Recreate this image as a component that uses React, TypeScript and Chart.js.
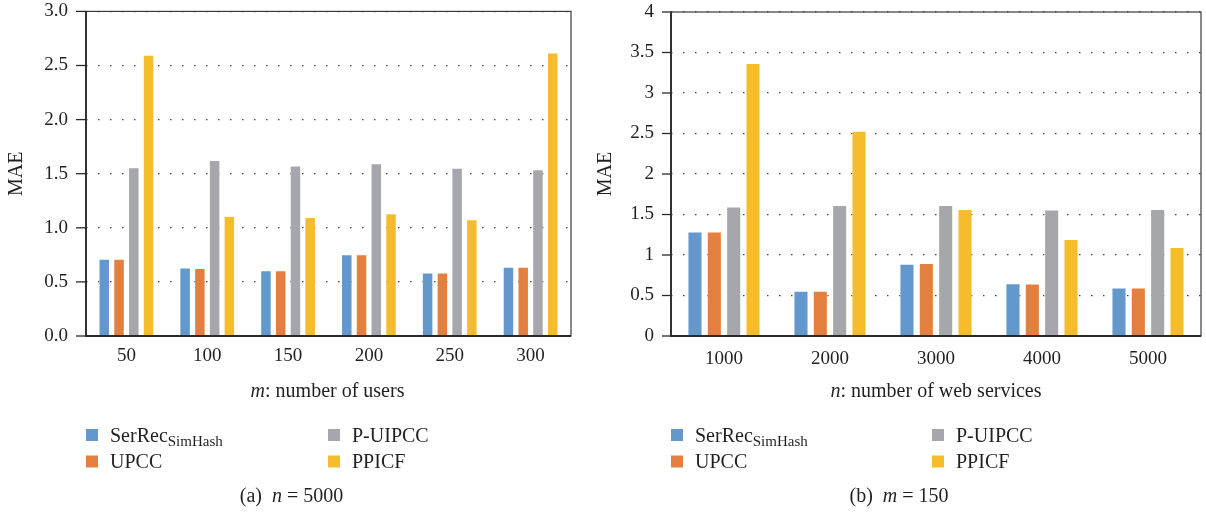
import { useEffect, useRef } from 'react';
import { Chart, registerables } from 'chart.js';

Chart.register(...registerables);

// ---------- data ----------
const seriesNames = ['SerRec_SimHash', 'UPCC', 'P-UIPCC', 'PPICF'];
const seriesColors = ['#6298CB', '#E4803F', '#A6A7AA', '#F5BC2C'];

const usersCategories = ['50', '100', '150', '200', '250', '300'];
const usersSerRec = [0.715, 0.632, 0.607, 0.755, 0.586, 0.641];
const usersUPCC = [0.715, 0.628, 0.607, 0.755, 0.586, 0.641];
const usersPUIPCC = [1.56, 1.627, 1.575, 1.596, 1.556, 1.54];
const usersPPICF = [2.6, 1.11, 1.1, 1.134, 1.078, 2.62];

const servicesCategories = ['1000', '2000', '3000', '4000', '5000'];
const servicesSerRec = [1.29, 0.56, 0.893, 0.65, 0.6];
const servicesUPCC = [1.29, 0.56, 0.9, 0.648, 0.6];
const servicesPUIPCC = [1.6, 1.617, 1.617, 1.563, 1.568];
const servicesPPICF = [3.37, 2.535, 1.568, 1.197, 1.099];

const yTitle = 'MAE';

// ---------- styling helpers ----------
const FONT = "'Liberation Serif', 'Times New Roman', serif";
const TEXT = '#231f20';

type Run = { text: string; italic?: boolean; size: number; dy?: number };

function fontOf(r: Run) {
  return `${r.italic ? 'italic ' : ''}${r.size}px ${FONT}`;
}

function drawRuns(ctx: CanvasRenderingContext2D, runs: Run[], x: number, y: number, align: 'left' | 'center') {
  ctx.save();
  ctx.textBaseline = 'alphabetic';
  ctx.textAlign = 'left';
  ctx.fillStyle = TEXT;
  let total = 0;
  const widths = runs.map((r) => {
    ctx.font = fontOf(r);
    const w = ctx.measureText(r.text).width;
    total += w;
    return w;
  });
  let cx = align === 'center' ? x - total / 2 : x;
  runs.forEach((r, i) => {
    ctx.font = fontOf(r);
    ctx.fillText(r.text, cx, y + (r.dy || 0));
    cx += widths[i];
  });
  ctx.restore();
}

type PanelCfg = {
  left: number;
  width: number;
  height: number;
  yAxisWidth: number;
  padRight: number;
  padTop: number;
  plotBottom: number;
  yMax: number;
  yFixed: boolean;
  tickLen: number;
  yLabelPad: number;
  xLabelPad: number;
  yTitlePad: number;
  categories: string[];
  values: number[][];
  xTitle: Run[];
  xTitleX: number;
  legendX: number[];
  legendTextX: number[];
  caption: Run[];
  captionX: number;
};

const legendRuns: Run[][] = [
  [
    { text: 'SerRec', size: 20 },
    { text: 'SimHash', size: 15, dy: 4 },
  ],
  [{ text: 'UPCC', size: 20 }],
  [{ text: 'P-UIPCC', size: 20 }],
  [{ text: 'PPICF', size: 20 }],
];

const panelA: PanelCfg = {
  left: 0,
  width: 590,
  height: 513,
  yAxisWidth: 86,
  padRight: 19,
  padTop: 11,
  plotBottom: 336,
  yMax: 3,
  yFixed: true,
  tickLen: 10,
  yLabelPad: 18,
  xLabelPad: 9,
  yTitlePad: 5,
  categories: usersCategories,
  values: [usersSerRec, usersUPCC, usersPUIPCC, usersPPICF],
  xTitle: [
    { text: 'm', italic: true, size: 20 },
    { text: ': number of users', size: 20 },
  ],
  xTitleX: 327.5,
  legendX: [86, 328],
  legendTextX: [110, 352],
  caption: [
    { text: '(a)  ', size: 20 },
    { text: 'n', italic: true, size: 20 },
    { text: ' = 5000', size: 20 },
  ],
  captionX: 291.5,
};

const panelB: PanelCfg = {
  left: 590,
  width: 616,
  height: 513,
  yAxisWidth: 81,
  padRight: 5,
  padTop: 12,
  plotBottom: 336,
  yMax: 4,
  yFixed: false,
  tickLen: 9,
  yLabelPad: 17,
  xLabelPad: 12,
  yTitlePad: 4,
  categories: servicesCategories,
  values: [servicesSerRec, servicesUPCC, servicesPUIPCC, servicesPPICF],
  xTitle: [
    { text: 'n', italic: true, size: 20 },
    { text: ': number of web services', size: 20 },
  ],
  xTitleX: 346,
  legendX: [81, 342],
  legendTextX: [105, 366],
  caption: [
    { text: '(b)  ', size: 20 },
    { text: 'm', italic: true, size: 20 },
    { text: ' = 150', size: 20 },
  ],
  captionX: 309,
};

function Panel({ cfg }: { cfg: PanelCfg }) {
  const ref = useRef<HTMLCanvasElement | null>(null);

  useEffect(() => {
    if (!ref.current) return;

    const framePlugin = {
      id: 'frameAndText',
      afterDraw(chart: any) {
        const ctx: CanvasRenderingContext2D = chart.ctx;
        const ca = chart.chartArea;
        const yScale = chart.scales.y;
        ctx.save();
        // frame
        ctx.strokeStyle = '#3a3a3a';
        ctx.lineWidth = 1.2;
        ctx.strokeRect(ca.left, ca.top, ca.right - ca.left, ca.bottom - ca.top);
        ctx.strokeStyle = '#2a2a2a';
        ctx.lineWidth = 1.8;
        ctx.beginPath();
        ctx.moveTo(ca.left, ca.top);
        ctx.lineTo(ca.left, ca.bottom);
        ctx.lineTo(ca.right, ca.bottom);
        ctx.stroke();
        // y tick marks
        ctx.lineWidth = 1.3;
        ctx.strokeStyle = '#2a2a2a';
        yScale.ticks.forEach((t: any) => {
          const y = yScale.getPixelForValue(t.value);
          ctx.beginPath();
          ctx.moveTo(ca.left - cfg.tickLen, y);
          ctx.lineTo(ca.left, y);
          ctx.stroke();
        });
        ctx.restore();

        // x-axis title
        drawRuns(ctx, cfg.xTitle, cfg.xTitleX, 397, 'center');

        // legend
        const rows = [441.5, 468];
        for (let i = 0; i < 4; i++) {
          const col = i < 2 ? 0 : 1;
          const row = i % 2;
          ctx.save();
          ctx.fillStyle = seriesColors[i];
          ctx.fillRect(cfg.legendX[col], rows[row] - 12.5, 12, 12);
          ctx.restore();
          drawRuns(ctx, legendRuns[i], cfg.legendTextX[col], rows[row], 'left');
        }

        // caption
        drawRuns(ctx, cfg.caption, cfg.captionX, 502, 'center');
      },
    };

    const chart = new Chart(ref.current, {
      type: 'bar',
      data: {
        labels: cfg.categories,
        datasets: cfg.values.map((vals, i) => ({
          label: seriesNames[i],
          data: vals,
          backgroundColor: seriesColors[i],
          borderColor: 'rgba(255,255,255,0.55)',
          borderWidth: 1,
          categoryPercentage: 0.73,
          barPercentage: 0.78,
        })),
      },
      options: {
        responsive: false,
        animation: false,
        devicePixelRatio: 1,
        layout: {
          padding: { left: 0, right: cfg.padRight, top: cfg.padTop, bottom: 0 },
        },
        plugins: {
          legend: { display: false },
          tooltip: { enabled: false },
          title: { display: false },
        },
        scales: {
          x: {
            grid: { display: false, drawTicks: false },
            border: { display: false },
            ticks: {
              color: TEXT,
              font: { family: FONT, size: 19 },
              padding: cfg.xLabelPad,
              maxRotation: 0,
            },
            afterFit: (scale: any) => {
              scale.height = cfg.height - cfg.plotBottom;
            },
          },
          y: {
            min: 0,
            max: cfg.yMax,
            grid: {
              color: '#444444',
              lineWidth: 1.3,
              drawTicks: true,
              tickLength: cfg.yLabelPad,
              tickColor: 'rgba(0,0,0,0)',
            },
            border: { display: false, dash: [1.5, 10.5] },
            ticks: {
              stepSize: 0.5,
              color: TEXT,
              font: { family: FONT, size: 19 },
              padding: 0,
              callback: (v: any) => (cfg.yFixed ? Number(v).toFixed(1) : String(Number(v))),
            },
            title: {
              display: true,
              text: yTitle,
              color: TEXT,
              font: { family: FONT, size: 20 },
              padding: { top: cfg.yTitlePad, bottom: 0 },
            },
            afterFit: (scale: any) => {
              scale.width = cfg.yAxisWidth;
            },
          },
        },
      },
      plugins: [framePlugin],
    } as any);

    return () => chart.destroy();
  }, [cfg]);

  return (
    <canvas
      ref={ref}
      width={cfg.width}
      height={cfg.height}
      style={{ position: 'absolute', left: cfg.left, top: 0, width: cfg.width, height: cfg.height }}
    />
  );
}

export default function App() {
  return (
    <div style={{ position: 'absolute', left: 0, top: 0, width: 1206, height: 513, background: '#ffffff' }}>
      <Panel cfg={panelA} />
      <Panel cfg={panelB} />
    </div>
  );
}
